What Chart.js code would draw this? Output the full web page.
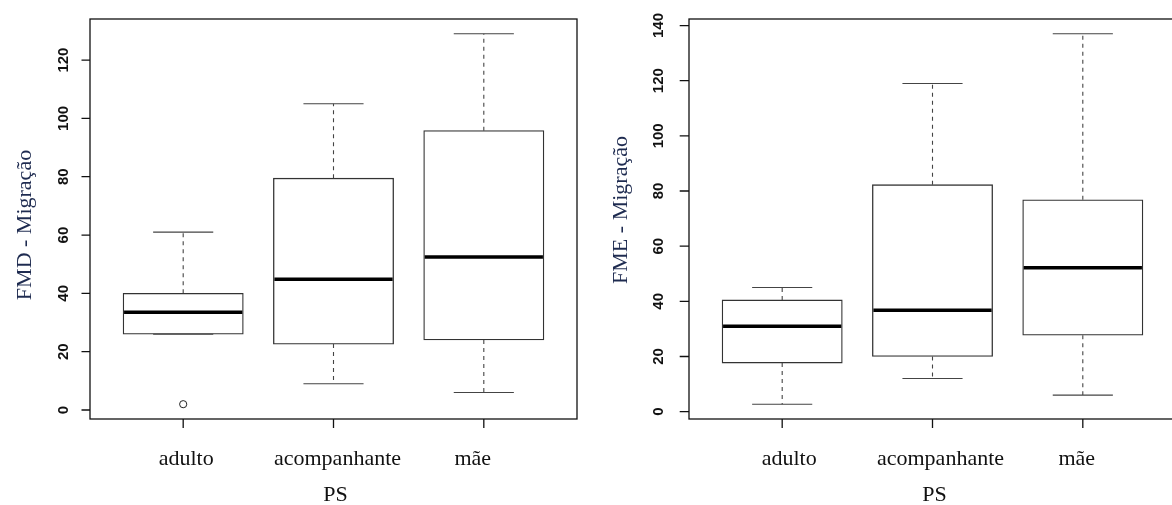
<!DOCTYPE html>
<html>
<head>
<meta charset="utf-8">
<script src="https://cdn.jsdelivr.net/npm/chart.js@4.4.1/dist/chart.umd.min.js"></script>
<style>
  html, body { margin: 0; padding: 0; background: #fff; overflow: hidden; }
  #wrap { position: relative; width: 1172px; height: 505px; overflow: hidden; }
  .panel { position: absolute; top: 0; width: 600px; height: 505px; }
</style>
</head>
<body>
<div id="wrap">
  <div class="panel" style="left:0"><canvas id="fmd" width="600" height="505"></canvas></div>
  <div class="panel" style="left:599px"><canvas id="fme" width="600" height="505"></canvas></div>
</div>
<script>
const groups = ["adulto", "acompanhante", "mãe"];

// FMD - Migração: five-number summary per group
const fmdLower = [26, 9, 6];
const fmdQ1 = [26, 22.6, 24];
const fmdMedian = [33.5, 44.8, 52.5];
const fmdQ3 = [40, 79.5, 95.8];
const fmdUpper = [61, 105, 129];
const fmdOutliers = [[2], [], []];
const fmdTicks = [0, 20, 40, 60, 80, 100, 120];

// FME - Migração
const fmeLower = [2.7, 12, 6];
const fmeQ1 = [17.6, 20, 27.7];
const fmeMedian = [31, 36.8, 52.2];
const fmeQ3 = [40.5, 82.3, 76.8];
const fmeUpper = [45, 119, 137];
const fmeOutliers = [[], [], []];
const fmeTicks = [0, 20, 40, 60, 80, 100, 120, 140];

const SERIF = "'Liberation Serif', 'Times New Roman', serif";
const SANS = "'Liberation Sans', Arial, sans-serif";

const PAD = { left: 90, right: 23, top: 19, bottom: 86 };
const X_MIN = 0.38, X_MAX = 3.62;
const BOX_WIDTH = 0.8; // in group units, like R's boxplot default

// R-style axis range: data range widened by 4% on each side
function extendRange(values) {
  const lo = Math.min(...values), hi = Math.max(...values);
  const pad = (hi - lo) * 0.04;
  return [lo - pad, hi + pad];
}

// whiskers, staples and medians drawn on top of the boxes
const boxExtras = {
  id: "boxExtras",
  afterDatasetsDraw(chart, args, opts) {
    const { ctx, scales: { x, y } } = chart;
    const s = opts.stats;
    ctx.save();
    s.median.forEach((_, i) => {
      const cx = x.getPixelForValue(i + 1);
      const half = x.getPixelForValue(i + 1 + BOX_WIDTH / 2) - cx;
      const staple = half / 2;
      ctx.strokeStyle = "#444";
      ctx.lineWidth = 1.1;
      ctx.setLineDash([4, 4]);
      ctx.beginPath();
      ctx.moveTo(cx, y.getPixelForValue(s.q3[i]));
      ctx.lineTo(cx, y.getPixelForValue(s.upper[i]));
      ctx.moveTo(cx, y.getPixelForValue(s.q1[i]));
      ctx.lineTo(cx, y.getPixelForValue(s.lower[i]));
      ctx.stroke();
      ctx.setLineDash([]);
      ctx.beginPath();
      [s.upper[i], s.lower[i]].forEach(v => {
        const py = y.getPixelForValue(v);
        ctx.moveTo(cx - staple, py);
        ctx.lineTo(cx + staple, py);
      });
      ctx.stroke();
      ctx.strokeStyle = "#000";
      ctx.lineWidth = 3.5;
      ctx.beginPath();
      const my = y.getPixelForValue(s.median[i]);
      ctx.moveTo(cx - half + 1, my);
      ctx.lineTo(cx + half - 1, my);
      ctx.stroke();
    });
    ctx.restore();
  },
  afterDraw(chart, args, opts) {
    const { ctx, chartArea: a, scales: { x, y } } = chart;
    ctx.save();
    ctx.strokeStyle = "#111";
    ctx.lineWidth = 1.3;
    ctx.strokeRect(a.left, a.top, a.right - a.left, a.bottom - a.top);

    // y axis ticks with rotated labels
    ctx.fillStyle = "#111";
    ctx.font = "bold 15px " + SANS;
    ctx.textAlign = "center";
    ctx.textBaseline = "alphabetic";
    ctx.beginPath();
    opts.ticks.forEach(t => {
      const py = y.getPixelForValue(t);
      ctx.moveTo(a.left - opts.tickLen, py);
      ctx.lineTo(a.left, py);
    });
    ctx.stroke();
    opts.ticks.forEach(t => {
      const py = y.getPixelForValue(t);
      ctx.save();
      ctx.translate(opts.tickLabelX, py);
      ctx.rotate(-Math.PI / 2);
      ctx.fillText(String(t), 0, 0);
      ctx.restore();
    });

    // x axis ticks and group names
    ctx.beginPath();
    groups.forEach((_, i) => {
      const px = x.getPixelForValue(i + 1);
      ctx.moveTo(px, a.bottom);
      ctx.lineTo(px, a.bottom + 9);
    });
    ctx.stroke();
    ctx.font = "22px " + SERIF;
    ctx.fillStyle = "#111";
    groups.forEach((g, i) => {
      ctx.fillText(g, x.getPixelForValue(i + 1) + opts.labelNudge[i], 465);
    });
    ctx.fillText("PS", (a.left + a.right) / 2 + 2, 501);

    // y axis title
    ctx.fillStyle = "#1e2b50";
    ctx.save();
    ctx.translate(opts.titleX, opts.titleY);
    ctx.rotate(-Math.PI / 2);
    ctx.fillText(opts.title, 0, 0);
    ctx.restore();
    ctx.restore();
  }
};

function makeBoxplot(id, stats, outliers, ticks, layout) {
  const canvas = document.getElementById(id);
  const yr = extendRange([...stats.lower, ...stats.upper, ...outliers.flat()]);
  const outlierPoints = outliers.flatMap((list, i) => list.map(v => ({ x: i + 1, y: v })));
  const plotWidth = canvas.width - PAD.left - PAD.right;
  const boxPx = plotWidth / (X_MAX - X_MIN) * BOX_WIDTH;
  return new Chart(canvas, {
    type: "bar",
    data: {
      datasets: [
        {
          type: "bar",
          data: stats.q1.map((q, i) => ({ x: i + 1, y: [q, stats.q3[i]] })),
          backgroundColor: "#fff",
          borderColor: "#333",
          borderWidth: 1.3,
          borderSkipped: false,
          barThickness: boxPx,
        },
        {
          type: "scatter",
          data: outlierPoints,
          pointStyle: "circle",
          pointRadius: 3.6,
          borderColor: "#222",
          backgroundColor: "#fff",
          borderWidth: 1,
        },
      ],
    },
    options: {
      responsive: false,
      animation: false,
      devicePixelRatio: 1,
      layout: { padding: PAD },
      plugins: {
        legend: { display: false },
        tooltip: { enabled: false },
        boxExtras: { stats, ticks, ...layout },
      },
      scales: {
        x: { type: "linear", min: X_MIN, max: X_MAX, offset: false, display: false },
        y: { type: "linear", min: yr[0], max: yr[1], display: false },
      },
    },
    plugins: [boxExtras],
  });
}

makeBoxplot("fmd",
  { lower: fmdLower, q1: fmdQ1, median: fmdMedian, q3: fmdQ3, upper: fmdUpper },
  fmdOutliers, fmdTicks,
  { title: "FMD - Migração", titleX: 31, titleY: 225, tickLabelX: 67.5, tickLen: 8.5, labelNudge: [3, 4, -11] });

makeBoxplot("fme",
  { lower: fmeLower, q1: fmeQ1, median: fmeMedian, q3: fmeQ3, upper: fmeUpper },
  fmeOutliers, fmeTicks,
  { title: "FME - Migração", titleX: 28, titleY: 210, tickLabelX: 64.3, tickLen: 9.3, labelNudge: [7, 8, -6] });
</script>
</body>
</html>
